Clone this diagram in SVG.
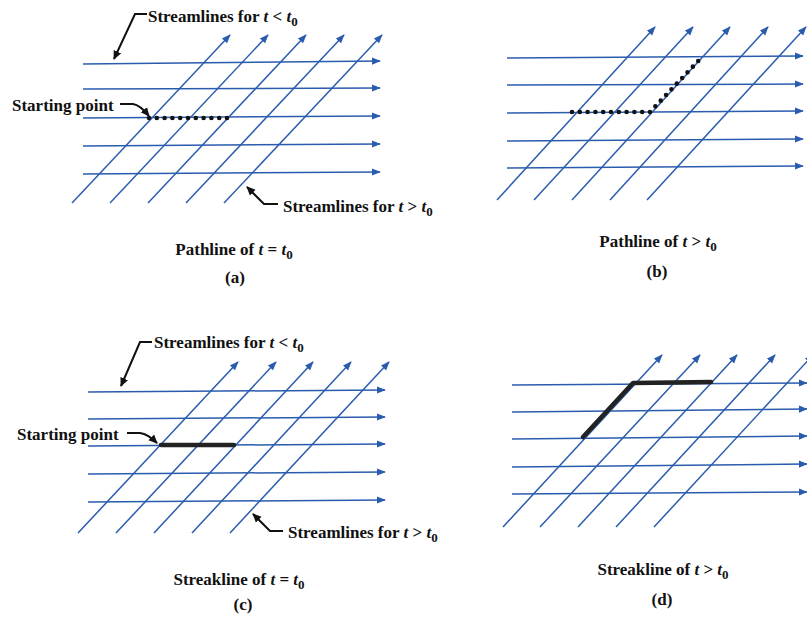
<svg xmlns="http://www.w3.org/2000/svg" width="807" height="620" viewBox="0 0 807 620">
<defs>
<marker id="ba" viewBox="0 0 10 10" refX="9" refY="5" markerWidth="9" markerHeight="9" markerUnits="userSpaceOnUse" orient="auto">
<path d="M0,1 L10,5 L0,9 z" fill="#2a5cae"/>
</marker>
<marker id="ka" viewBox="0 0 10 10" refX="9" refY="5" markerWidth="9" markerHeight="9" markerUnits="userSpaceOnUse" orient="auto">
<path d="M0,0.5 L10,5 L0,9.5 z" fill="#111"/>
</marker>
<style>
.g line{stroke:#2a5cae;stroke-width:1.5;fill:none;marker-end:url(#ba)}
.lbl{font-family:"Liberation Serif","Times New Roman",serif;font-size:17px;font-weight:bold;fill:#111}
.cap{font-family:"Liberation Serif","Times New Roman",serif;font-size:17px;font-weight:bold;fill:#111}
.it{font-style:italic}
.sub{font-size:13px}
.ptr{stroke:#111;stroke-width:2;fill:none;marker-end:url(#ka)}
.dots{stroke:#111;stroke-width:4.6;stroke-linecap:round;stroke-dasharray:0 7.8;fill:none}
.thick{stroke:#222;stroke-width:4.5;stroke-linecap:round;stroke-linejoin:round;fill:none}
</style>
</defs>

<!-- Panel (a) -->
<g id="panel-a">
<g class="g" id="grid-a">
<line x1="83" y1="64" x2="380" y2="61"/>
<line x1="83" y1="89" x2="380" y2="88"/>
<line x1="83" y1="118" x2="380" y2="116"/>
<line x1="83" y1="146" x2="380" y2="144"/>
<line x1="83" y1="174" x2="380" y2="172"/>
<line x1="72" y1="203" x2="230" y2="35"/>
<line x1="110" y1="203" x2="268" y2="35"/>
<line x1="148" y1="203" x2="306" y2="35"/>
<line x1="186" y1="203" x2="344" y2="35"/>
<line x1="224" y1="203" x2="382" y2="35"/>
</g>
<path class="dots" d="M149,118 L228,118"/>
<g id="label-a-lt">
<path class="ptr" d="M147,14 L135,14 L114,59"/>
<text class="lbl" x="148" y="22">Streamlines for <tspan class="it">t</tspan> &lt; <tspan class="it">t</tspan><tspan class="sub" dy="4">0</tspan></text>
</g>
<g id="label-a-start">
<path class="ptr" d="M120,104 L133,104 Q140,105 149,116"/>
<text class="lbl" x="12" y="111">Starting point</text>
</g>
<g id="label-a-gt">
<path class="ptr" d="M278,204 L264,204 L247,187"/>
<text class="lbl" x="283" y="212">Streamlines for <tspan class="it">t</tspan> &gt; <tspan class="it">t</tspan><tspan class="sub" dy="4">0</tspan></text>
</g>
<text class="cap" x="234" y="255" text-anchor="middle">Pathline of <tspan class="it">t</tspan> = <tspan class="it">t</tspan><tspan class="sub" dy="4">0</tspan></text>
<text class="cap" x="235" y="283" text-anchor="middle">(a)</text>
</g>

<!-- Panel (b) -->
<g id="panel-b">
<g class="g" id="grid-b">
<line x1="507" y1="58" x2="803" y2="56"/>
<line x1="507" y1="85" x2="803" y2="84"/>
<line x1="507" y1="113" x2="803" y2="111"/>
<line x1="507" y1="141" x2="803" y2="139"/>
<line x1="507" y1="168" x2="803" y2="166"/>
<line x1="497" y1="200" x2="655" y2="27"/>
<line x1="534" y1="200" x2="693" y2="27"/>
<line x1="572" y1="200" x2="730" y2="27"/>
<line x1="610" y1="200" x2="768" y2="27"/>
<line x1="647" y1="200" x2="806" y2="27"/>
</g>
<path class="dots" d="M572,112 L650,112 L702,57"/>
<text class="cap" x="658" y="247" text-anchor="middle">Pathline of <tspan class="it">t</tspan> &gt; <tspan class="it">t</tspan><tspan class="sub" dy="4">0</tspan></text>
<text class="cap" x="657" y="277" text-anchor="middle">(b)</text>
</g>

<!-- Panel (c) -->
<g id="panel-c">
<g class="g" id="grid-c">
<line x1="88" y1="392" x2="385" y2="390"/>
<line x1="88" y1="419" x2="385" y2="417"/>
<line x1="88" y1="446" x2="385" y2="444"/>
<line x1="88" y1="474" x2="385" y2="472"/>
<line x1="88" y1="502" x2="385" y2="500"/>
<line x1="78" y1="533" x2="238" y2="362"/>
<line x1="116" y1="533" x2="276" y2="362"/>
<line x1="154" y1="533" x2="313" y2="362"/>
<line x1="192" y1="533" x2="351" y2="362"/>
<line x1="230" y1="533" x2="389" y2="362"/>
</g>
<path class="thick" d="M161,445 L234,445"/>
<g id="label-c-lt">
<path class="ptr" d="M152,342 L140,342 L121,386"/>
<text class="lbl" x="154" y="348">Streamlines for <tspan class="it">t</tspan> &lt; <tspan class="it">t</tspan><tspan class="sub" dy="4">0</tspan></text>
</g>
<g id="label-c-start">
<path class="ptr" d="M127,433 L140,433 Q148,434 157,443"/>
<text class="lbl" x="17" y="440">Starting point</text>
</g>
<g id="label-c-gt">
<path class="ptr" d="M283,531 L270,531 L253,514"/>
<text class="lbl" x="288" y="538">Streamlines for <tspan class="it">t</tspan> &gt; <tspan class="it">t</tspan><tspan class="sub" dy="4">0</tspan></text>
</g>
<text class="cap" x="239" y="585" text-anchor="middle">Streakline of <tspan class="it">t</tspan> = <tspan class="it">t</tspan><tspan class="sub" dy="4">0</tspan></text>
<text class="cap" x="243" y="610" text-anchor="middle">(c)</text>
</g>

<!-- Panel (d) -->
<g id="panel-d">
<g class="g" id="grid-d">
<line x1="512" y1="385" x2="807" y2="383"/>
<line x1="512" y1="412" x2="807" y2="409"/>
<line x1="512" y1="439" x2="807" y2="436"/>
<line x1="512" y1="467" x2="807" y2="464"/>
<line x1="512" y1="494" x2="807" y2="492"/>
<line x1="503" y1="527" x2="662" y2="355"/>
<line x1="540" y1="527" x2="700" y2="355"/>
<line x1="578" y1="527" x2="737" y2="355"/>
<line x1="616" y1="527" x2="775" y2="355"/>
<line x1="654" y1="527" x2="813" y2="355"/>
</g>
<path class="thick" d="M583,437 L633,383 L711,382"/>
<text class="cap" x="663" y="575" text-anchor="middle">Streakline of <tspan class="it">t</tspan> &gt; <tspan class="it">t</tspan><tspan class="sub" dy="4">0</tspan></text>
<text class="cap" x="662" y="605" text-anchor="middle">(d)</text>
</g>
</svg>
